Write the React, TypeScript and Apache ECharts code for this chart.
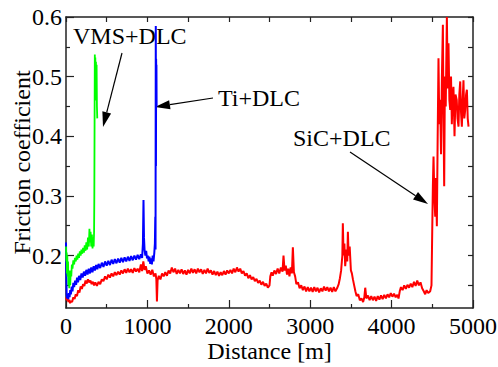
import React, { useEffect, useRef } from "react";
import * as echarts from "echarts";

const X_LABELS = [0, 1000, 2000, 3000, 4000, 5000];
const Y_MAJOR = [0.2, 0.3, 0.4, 0.5, 0.6];
const Y_MINOR = [0.15, 0.25, 0.35, 0.45, 0.55];
const Y_MIRROR = [0.15, 0.2, 0.25, 0.3, 0.35, 0.4, 0.45, 0.5, 0.55, 0.6];

const SERIES_NAMES = ["SiC+DLC", "Ti+DLC", "VMS+DLC"];

const vmsData: [number, number][] = [
  [0, 0.215], [4, 0.19], [8, 0.205], [12, 0.17], [16, 0.2], [20, 0.165], [25, 0.19], [30, 0.15],
  [35, 0.175], [40, 0.145], [46, 0.168], [52, 0.15], [58, 0.175], [65, 0.165], [72, 0.185], [80, 0.178],
  [90, 0.192], [100, 0.185], [110, 0.196], [120, 0.19], [130, 0.2], [140, 0.193], [150, 0.203], [160, 0.196],
  [170, 0.207], [180, 0.2], [190, 0.21], [200, 0.203], [210, 0.213], [220, 0.205], [230, 0.217], [240, 0.208],
  [250, 0.222], [260, 0.21], [270, 0.23], [280, 0.215], [288, 0.245], [295, 0.222], [302, 0.24], [310, 0.215],
  [318, 0.235], [326, 0.212], [334, 0.23], [340, 0.215], [345, 0.24], [348, 0.3], [351, 0.42], [354, 0.537],
  [357, 0.46], [360, 0.532], [364, 0.5], [368, 0.525], [372, 0.47], [376, 0.52], [380, 0.45], [384, 0.43],
];

const tiData: [number, number][] = [
  [0, 0.222], [4, 0.17], [8, 0.135], [14, 0.128], [20, 0.136], [28, 0.127], [36, 0.137], [44, 0.13],
  [52, 0.142], [60, 0.135], [70, 0.148], [80, 0.14], [90, 0.154], [100, 0.147], [112, 0.158], [124, 0.151],
  [136, 0.163], [148, 0.155], [160, 0.166], [175, 0.159], [190, 0.17], [205, 0.163], [220, 0.173], [235, 0.166],
  [250, 0.176], [265, 0.168], [280, 0.178], [295, 0.17], [310, 0.18], [325, 0.172], [340, 0.182], [355, 0.175],
  [370, 0.184], [385, 0.177], [400, 0.186], [420, 0.179], [440, 0.188], [460, 0.181], [480, 0.19], [500, 0.183],
  [520, 0.191], [540, 0.184], [560, 0.193], [580, 0.186], [600, 0.194], [620, 0.187], [640, 0.195], [660, 0.188],
  [680, 0.196], [700, 0.189], [720, 0.197], [740, 0.19], [760, 0.198], [780, 0.191], [800, 0.199], [820, 0.192],
  [840, 0.2], [860, 0.193], [880, 0.201], [900, 0.194], [920, 0.202], [935, 0.196], [945, 0.22], [952, 0.293],
  [958, 0.23], [965, 0.21], [975, 0.2], [985, 0.208], [995, 0.195], [1005, 0.2], [1015, 0.19], [1025, 0.198],
  [1035, 0.186], [1045, 0.195], [1055, 0.185], [1065, 0.2], [1075, 0.19], [1085, 0.205], [1092, 0.22], [1097, 0.265],
  [1100, 0.21], [1103, 0.585], [1105, 0.35], [1107, 0.53], [1109, 0.49], [1111, 0.52], [1113, 0.45],
];

const sicData: [number, number][] = [
  [0, 0.13], [10, 0.125], [20, 0.128], [30, 0.122], [40, 0.126], [50, 0.12], [60, 0.124], [75, 0.122],
  [90, 0.13], [105, 0.127], [120, 0.135], [135, 0.132], [150, 0.142], [165, 0.138], [180, 0.148], [195, 0.144],
  [210, 0.152], [225, 0.149], [240, 0.158], [255, 0.153], [270, 0.16], [285, 0.155], [300, 0.158], [315, 0.152],
  [330, 0.156], [345, 0.15], [360, 0.155], [380, 0.149], [400, 0.156], [420, 0.152], [440, 0.16], [460, 0.157],
  [480, 0.165], [500, 0.16], [520, 0.168], [540, 0.163], [560, 0.17], [580, 0.165], [600, 0.172], [620, 0.167],
  [640, 0.173], [660, 0.168], [680, 0.175], [700, 0.17], [720, 0.177], [740, 0.171], [760, 0.178], [780, 0.172],
  [800, 0.177], [820, 0.171], [840, 0.179], [860, 0.173], [880, 0.178], [900, 0.172], [920, 0.185], [935, 0.174],
  [950, 0.19], [965, 0.176], [980, 0.182], [1000, 0.17], [1020, 0.175], [1040, 0.168], [1060, 0.176], [1080, 0.165],
  [1100, 0.17], [1110, 0.16], [1117, 0.123], [1125, 0.158], [1140, 0.166], [1160, 0.16], [1180, 0.17], [1200, 0.165],
  [1220, 0.172], [1240, 0.166], [1260, 0.175], [1280, 0.17], [1300, 0.18], [1320, 0.172], [1340, 0.178], [1360, 0.169],
  [1380, 0.176], [1400, 0.17], [1420, 0.177], [1440, 0.169], [1460, 0.175], [1480, 0.168], [1500, 0.176], [1520, 0.17],
  [1540, 0.178], [1560, 0.171], [1580, 0.177], [1600, 0.17], [1620, 0.178], [1640, 0.172], [1660, 0.177], [1680, 0.169],
  [1700, 0.176], [1720, 0.17], [1740, 0.178], [1760, 0.171], [1780, 0.175], [1800, 0.168], [1820, 0.174], [1840, 0.167],
  [1860, 0.173], [1880, 0.166], [1900, 0.172], [1920, 0.167], [1940, 0.174], [1960, 0.168], [1980, 0.175], [2000, 0.17],
  [2020, 0.176], [2040, 0.17], [2060, 0.178], [2080, 0.172], [2100, 0.18], [2120, 0.173], [2140, 0.178], [2160, 0.17],
  [2180, 0.174], [2200, 0.166], [2220, 0.17], [2240, 0.162], [2260, 0.167], [2280, 0.16], [2300, 0.164], [2320, 0.157],
  [2340, 0.161], [2360, 0.154], [2380, 0.158], [2400, 0.151], [2420, 0.156], [2440, 0.149], [2460, 0.153], [2480, 0.146],
  [2500, 0.15], [2510, 0.165], [2525, 0.172], [2540, 0.166], [2560, 0.175], [2580, 0.169], [2600, 0.178], [2620, 0.17],
  [2640, 0.18], [2660, 0.173], [2672, 0.2], [2685, 0.175], [2700, 0.183], [2715, 0.168], [2730, 0.178], [2745, 0.165],
  [2760, 0.18], [2775, 0.17], [2787, 0.214], [2800, 0.172], [2815, 0.165], [2830, 0.152], [2850, 0.155], [2870, 0.145],
  [2890, 0.15], [2910, 0.142], [2930, 0.148], [2950, 0.14], [2970, 0.147], [2990, 0.14], [3010, 0.146], [3030, 0.139],
  [3050, 0.147], [3070, 0.14], [3090, 0.146], [3110, 0.138], [3130, 0.145], [3150, 0.14], [3170, 0.148], [3190, 0.141],
  [3210, 0.147], [3230, 0.14], [3250, 0.146], [3270, 0.139], [3290, 0.147], [3310, 0.14], [3330, 0.145], [3350, 0.152],
  [3365, 0.162], [3380, 0.175], [3395, 0.2], [3401, 0.254], [3410, 0.2], [3420, 0.22], [3430, 0.182], [3445, 0.21],
  [3455, 0.19], [3463, 0.24], [3472, 0.2], [3485, 0.215], [3500, 0.175], [3512, 0.17], [3525, 0.16], [3540, 0.15],
  [3555, 0.14], [3570, 0.132], [3590, 0.135], [3610, 0.125], [3630, 0.128], [3650, 0.122], [3665, 0.13], [3676, 0.146],
  [3690, 0.128], [3710, 0.133], [3730, 0.125], [3750, 0.132], [3770, 0.125], [3790, 0.131], [3810, 0.124], [3830, 0.132],
  [3850, 0.126], [3870, 0.133], [3890, 0.127], [3910, 0.134], [3930, 0.128], [3950, 0.135], [3970, 0.13], [3990, 0.137],
  [4010, 0.131], [4030, 0.136], [4050, 0.13], [4070, 0.134], [4085, 0.128], [4100, 0.14], [4115, 0.147], [4135, 0.142],
  [4155, 0.15], [4175, 0.144], [4195, 0.151], [4215, 0.146], [4235, 0.153], [4255, 0.147], [4275, 0.156], [4295, 0.149],
  [4315, 0.158], [4335, 0.15], [4355, 0.155], [4375, 0.145], [4395, 0.14], [4413, 0.135], [4430, 0.142], [4450, 0.137],
  [4474, 0.14], [4490, 0.15], [4500, 0.25], [4507, 0.316], [4515, 0.366], [4525, 0.3], [4536, 0.265], [4545, 0.33],
  [4556, 0.249], [4566, 0.4], [4576, 0.531], [4586, 0.42], [4597, 0.461], [4607, 0.37], [4618, 0.5], [4630, 0.587],
  [4638, 0.43], [4646, 0.316], [4655, 0.5], [4665, 0.45], [4679, 0.6], [4690, 0.48], [4699, 0.556], [4710, 0.46],
  [4720, 0.444], [4730, 0.5], [4740, 0.42], [4750, 0.47], [4760, 0.483], [4773, 0.4], [4785, 0.47], [4800, 0.461],
  [4810, 0.43], [4822, 0.416], [4832, 0.47], [4843, 0.492], [4853, 0.44], [4863, 0.416], [4873, 0.46], [4883, 0.494],
  [4893, 0.43], [4904, 0.444], [4915, 0.47], [4925, 0.478], [4935, 0.43], [4945, 0.416],
];

const FONT = "Liberation Serif";
const AXIS_COLOR = "#222";

function arrow(x1: number, y1: number, x2: number, y2: number) {
  const dx = x2 - x1;
  const dy = y2 - y1;
  const L = Math.hypot(dx, dy);
  const ux = dx / L;
  const uy = dy / L;
  const hl = 15;
  const hw = 4.5;
  const bx = x2 - ux * hl;
  const by = y2 - uy * hl;
  return [
    { type: "line", shape: { x1, y1, x2: bx, y2: by }, style: { stroke: "#000", lineWidth: 1.2 }, silent: true },
    {
      type: "polygon",
      shape: { points: [[x2, y2], [bx - uy * hw, by + ux * hw], [bx + uy * hw, by - ux * hw]] },
      style: { fill: "#000" },
      silent: true,
    },
  ];
}

function label(text: string, x: number, y: number) {
  return {
    type: "text",
    x,
    y,
    silent: true,
    style: { text, fontSize: 24, fontFamily: FONT, fill: "#000", align: "left", verticalAlign: "middle" },
  };
}

export default function App() {
  const ref = useRef<HTMLDivElement>(null);
  useEffect(() => {
    if (!ref.current) return;
    const chart = echarts.init(ref.current, undefined, { renderer: "svg" });
    const axisLine = { show: true, lineStyle: { color: AXIS_COLOR, width: 1.5 } };
    const labelStyle = { fontSize: 24, fontFamily: FONT, color: "#000" };
    const option: any = {
      animation: false,
      backgroundColor: "#fff",
      textStyle: { fontFamily: FONT },
      grid: { left: 66, right: 25, top: 17, bottom: 59, containLabel: false, outerBoundsMode: "none" },
      xAxis: [
        {
          type: "value",
          min: 0,
          max: 5000,
          interval: 1000,
          position: "bottom",
          name: "Distance [m]",
          nameLocation: "middle",
          nameGap: 31,
          nameMoveOverlap: false,
          nameTextStyle: labelStyle,
          axisLine,
          axisTick: { show: true, inside: true, length: 8, lineStyle: { color: AXIS_COLOR, width: 1.2 } },
          minorTick: { show: true, splitNumber: 2, length: 4, lineStyle: { color: AXIS_COLOR, width: 1.2 } },
          axisLabel: {
            ...labelStyle,
            margin: 6,
            customValues: X_LABELS,
            formatter: (v: number) => String(v),
          },
          splitLine: { show: false },
        },
        {
          type: "value",
          min: 0,
          max: 5000,
          interval: 500,
          position: "top",
          axisLine,
          axisTick: { show: true, inside: true, length: 5, lineStyle: { color: AXIS_COLOR, width: 1.2 } },
          axisLabel: { show: false },
          splitLine: { show: false },
        },
      ],
      yAxis: [
        {
          type: "value",
          min: 0.112,
          max: 0.6,
          position: "left",
          name: "Friction coefficient",
          nameLocation: "middle",
          nameGap: 32,
          nameMoveOverlap: false,
          nameTextStyle: labelStyle,
          axisLine,
          axisTick: { show: true, inside: true, length: 8, customValues: Y_MAJOR, lineStyle: { color: AXIS_COLOR, width: 1.2 } },
          axisLabel: {
            ...labelStyle,
            margin: 4,
            customValues: Y_MAJOR,
            formatter: (v: number) => v.toFixed(1),
          },
          splitLine: { show: false },
        },
        {
          type: "value",
          min: 0.112,
          max: 0.6,
          position: "left",
          axisLine: { show: false },
          axisTick: { show: true, inside: true, length: 4, customValues: Y_MINOR, lineStyle: { color: AXIS_COLOR, width: 1.2 } },
          axisLabel: { show: false },
          splitLine: { show: false },
        },
        {
          type: "value",
          min: 0.112,
          max: 0.6,
          position: "right",
          axisLine,
          axisTick: { show: true, inside: true, length: 5, customValues: Y_MIRROR, lineStyle: { color: AXIS_COLOR, width: 1.2 } },
          axisLabel: { show: false },
          splitLine: { show: false },
        },
      ],
      series: [
        {
          name: SERIES_NAMES[0],
          type: "line",
          data: sicData,
          showSymbol: false,
          silent: true,
          clip: true,
          lineStyle: { color: "#ff0000", width: 2 },
          itemStyle: { color: "#ff0000" },
        },
        {
          name: SERIES_NAMES[1],
          type: "line",
          data: tiData,
          showSymbol: false,
          silent: true,
          clip: true,
          lineStyle: { color: "#0000ff", width: 2 },
          itemStyle: { color: "#0000ff" },
        },
        {
          name: SERIES_NAMES[2],
          type: "line",
          data: vmsData,
          showSymbol: false,
          silent: true,
          clip: true,
          lineStyle: { color: "#00ff00", width: 1.8 },
          itemStyle: { color: "#00ff00" },
        },
      ],
      graphic: [
        label("VMS+DLC", 73, 36),
        label("Ti+DLC", 218, 98),
        label("SiC+DLC", 293, 138),
        ...arrow(122, 53, 103, 127),
        ...arrow(213, 98, 155, 107),
        ...arrow(350, 152, 428, 204),
      ],
    };
    chart.setOption(option);
    return () => chart.dispose();
  }, []);
  return (
    <div
      ref={ref}
      style={{ position: "fixed", left: 0, top: 0, width: 498, height: 367, background: "#fff" }}
    />
  );
}
